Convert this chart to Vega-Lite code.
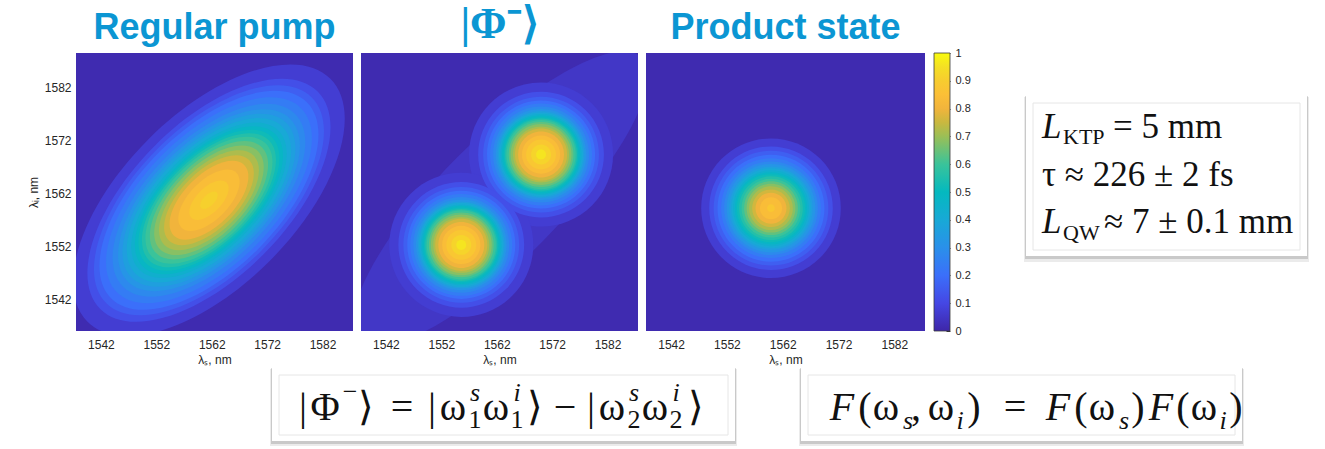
{
  "$schema": "https://vega.github.io/schema/vega-lite/v6.json",
  "padding": {"left": 27, "top": 3, "right": 0, "bottom": 0},
  "background": "white",
  "config": {
    "view": {"stroke": null},
    "font": "Liberation Sans",
    "axis": {"labelFont": "Liberation Sans", "titleFont": "Liberation Sans", "labelColor": "#262626", "titleColor": "#262626", "labelFontSize": 12, "titleFontSize": 12, "titleFontWeight": "normal", "grid": false, "domain": false, "ticks": false},
    "title": {"font": "Liberation Sans", "fontSize": 36, "fontWeight": "bold", "color": "#0b96d3", "offset": 6, "baseline": "alphabetic", "anchor": "middle"}
  },
  "datasets": {
    "blobs": [
      {"p":1,"x":1561.5,"y":1560.7,"v":0.07,"d":62,"s":"e"},
      {"p":1,"x":1561.5,"y":1560.7,"v":0.12,"d":55.5,"s":"e"},
      {"p":1,"x":1561.5,"y":1560.7,"v":0.16,"d":52.5,"s":"e"},
      {"p":1,"x":1561.5,"y":1560.7,"v":0.20,"d":50,"s":"e"},
      {"p":1,"x":1561.5,"y":1560.7,"v":0.24,"d":47,"s":"e"},
      {"p":1,"x":1561.5,"y":1560.7,"v":0.28,"d":44,"s":"e"},
      {"p":1,"x":1561.5,"y":1560.7,"v":0.32,"d":41.5,"s":"e"},
      {"p":1,"x":1561.5,"y":1560.7,"v":0.36,"d":39.5,"s":"e"},
      {"p":1,"x":1561.5,"y":1560.7,"v":0.40,"d":37.5,"s":"e"},
      {"p":1,"x":1561.5,"y":1560.7,"v":0.44,"d":35.5,"s":"e"},
      {"p":1,"x":1561.5,"y":1560.7,"v":0.48,"d":33.8,"s":"e"},
      {"p":1,"x":1561.5,"y":1560.7,"v":0.52,"d":32.2,"s":"e"},
      {"p":1,"x":1561.5,"y":1560.7,"v":0.56,"d":30.6,"s":"e"},
      {"p":1,"x":1561.5,"y":1560.7,"v":0.60,"d":29,"s":"e"},
      {"p":1,"x":1561.5,"y":1560.7,"v":0.64,"d":27,"s":"e"},
      {"p":1,"x":1561.5,"y":1560.7,"v":0.68,"d":25,"s":"e"},
      {"p":1,"x":1561.5,"y":1560.7,"v":0.72,"d":22.8,"s":"e"},
      {"p":1,"x":1561.5,"y":1560.7,"v":0.76,"d":20.5,"s":"e"},
      {"p":1,"x":1561.5,"y":1560.7,"v":0.80,"d":18,"s":"e"},
      {"p":1,"x":1561.5,"y":1560.7,"v":0.84,"d":14,"s":"e"},
      {"p":1,"x":1561.5,"y":1560.7,"v":0.88,"d":9,"s":"e"},
      {"p":1,"x":1561.5,"y":1560.7,"v":0.91,"d":4,"s":"e"},

      {"p":2,"x":1562.7,"y":1561.0,"v":0.05,"d":72,"s":"b"},
      {"p":2,"x":1570.0,"y":1569.3,"v":0.07,"d":26.0,"s":"c"},
      {"p":2,"x":1555.6,"y":1552.3,"v":0.07,"d":26.0,"s":"c"},
      {"p":2,"x":1570.0,"y":1569.3,"v":0.12,"d":22.7,"s":"c"},
      {"p":2,"x":1555.6,"y":1552.3,"v":0.12,"d":22.7,"s":"c"},
      {"p":2,"x":1570.0,"y":1569.3,"v":0.16,"d":20.9,"s":"c"},
      {"p":2,"x":1555.6,"y":1552.3,"v":0.16,"d":20.9,"s":"c"},
      {"p":2,"x":1570.0,"y":1569.3,"v":0.20,"d":19.5,"s":"c"},
      {"p":2,"x":1555.6,"y":1552.3,"v":0.20,"d":19.5,"s":"c"},
      {"p":2,"x":1570.0,"y":1569.3,"v":0.24,"d":18.4,"s":"c"},
      {"p":2,"x":1555.6,"y":1552.3,"v":0.24,"d":18.4,"s":"c"},
      {"p":2,"x":1570.0,"y":1569.3,"v":0.28,"d":17.3,"s":"c"},
      {"p":2,"x":1555.6,"y":1552.3,"v":0.28,"d":17.3,"s":"c"},
      {"p":2,"x":1570.0,"y":1569.3,"v":0.32,"d":16.4,"s":"c"},
      {"p":2,"x":1555.6,"y":1552.3,"v":0.32,"d":16.4,"s":"c"},
      {"p":2,"x":1570.0,"y":1569.3,"v":0.36,"d":15.7,"s":"c"},
      {"p":2,"x":1555.6,"y":1552.3,"v":0.36,"d":15.7,"s":"c"},
      {"p":2,"x":1570.0,"y":1569.3,"v":0.40,"d":15.2,"s":"c"},
      {"p":2,"x":1555.6,"y":1552.3,"v":0.40,"d":15.2,"s":"c"},
      {"p":2,"x":1570.0,"y":1569.3,"v":0.44,"d":14.6,"s":"c"},
      {"p":2,"x":1555.6,"y":1552.3,"v":0.44,"d":14.6,"s":"c"},
      {"p":2,"x":1570.0,"y":1569.3,"v":0.48,"d":14.1,"s":"c"},
      {"p":2,"x":1555.6,"y":1552.3,"v":0.48,"d":14.1,"s":"c"},
      {"p":2,"x":1570.0,"y":1569.3,"v":0.52,"d":13.5,"s":"c"},
      {"p":2,"x":1555.6,"y":1552.3,"v":0.52,"d":13.5,"s":"c"},
      {"p":2,"x":1570.0,"y":1569.3,"v":0.56,"d":13.0,"s":"c"},
      {"p":2,"x":1555.6,"y":1552.3,"v":0.56,"d":13.0,"s":"c"},
      {"p":2,"x":1570.0,"y":1569.3,"v":0.60,"d":12.5,"s":"c"},
      {"p":2,"x":1555.6,"y":1552.3,"v":0.60,"d":12.5,"s":"c"},
      {"p":2,"x":1570.0,"y":1569.3,"v":0.64,"d":11.7,"s":"c"},
      {"p":2,"x":1555.6,"y":1552.3,"v":0.64,"d":11.7,"s":"c"},
      {"p":2,"x":1570.0,"y":1569.3,"v":0.68,"d":11.0,"s":"c"},
      {"p":2,"x":1555.6,"y":1552.3,"v":0.68,"d":11.0,"s":"c"},
      {"p":2,"x":1570.0,"y":1569.3,"v":0.72,"d":10.1,"s":"c"},
      {"p":2,"x":1555.6,"y":1552.3,"v":0.72,"d":10.1,"s":"c"},
      {"p":2,"x":1570.0,"y":1569.3,"v":0.76,"d":9.4,"s":"c"},
      {"p":2,"x":1555.6,"y":1552.3,"v":0.76,"d":9.4,"s":"c"},
      {"p":2,"x":1570.0,"y":1569.3,"v":0.80,"d":8.3,"s":"c"},
      {"p":2,"x":1555.6,"y":1552.3,"v":0.80,"d":8.3,"s":"c"},
      {"p":2,"x":1570.0,"y":1569.3,"v":0.84,"d":6.9,"s":"c"},
      {"p":2,"x":1555.6,"y":1552.3,"v":0.84,"d":6.9,"s":"c"},
      {"p":2,"x":1570.0,"y":1569.3,"v":0.88,"d":5.4,"s":"c"},
      {"p":2,"x":1555.6,"y":1552.3,"v":0.88,"d":5.4,"s":"c"},
      {"p":2,"x":1570.0,"y":1569.3,"v":0.92,"d":3.6,"s":"c"},
      {"p":2,"x":1555.6,"y":1552.3,"v":0.92,"d":3.6,"s":"c"},
      {"p":2,"x":1570.0,"y":1569.3,"v":0.96,"d":1.8,"s":"c"},
      {"p":2,"x":1555.6,"y":1552.3,"v":0.96,"d":1.8,"s":"c"},

      {"p":3,"x":1559.9,"y":1559.2,"v":0.07,"d":25.2,"s":"c"},
      {"p":3,"x":1559.9,"y":1559.2,"v":0.12,"d":22.3,"s":"c"},
      {"p":3,"x":1559.9,"y":1559.2,"v":0.16,"d":20.7,"s":"c"},
      {"p":3,"x":1559.9,"y":1559.2,"v":0.20,"d":19.3,"s":"c"},
      {"p":3,"x":1559.9,"y":1559.2,"v":0.24,"d":18.0,"s":"c"},
      {"p":3,"x":1559.9,"y":1559.2,"v":0.28,"d":16.9,"s":"c"},
      {"p":3,"x":1559.9,"y":1559.2,"v":0.32,"d":16.0,"s":"c"},
      {"p":3,"x":1559.9,"y":1559.2,"v":0.36,"d":15.1,"s":"c"},
      {"p":3,"x":1559.9,"y":1559.2,"v":0.40,"d":14.4,"s":"c"},
      {"p":3,"x":1559.9,"y":1559.2,"v":0.44,"d":13.7,"s":"c"},
      {"p":3,"x":1559.9,"y":1559.2,"v":0.48,"d":13.0,"s":"c"},
      {"p":3,"x":1559.9,"y":1559.2,"v":0.52,"d":12.3,"s":"c"},
      {"p":3,"x":1559.9,"y":1559.2,"v":0.56,"d":11.5,"s":"c"},
      {"p":3,"x":1559.9,"y":1559.2,"v":0.60,"d":10.6,"s":"c"},
      {"p":3,"x":1559.9,"y":1559.2,"v":0.64,"d":9.7,"s":"c"},
      {"p":3,"x":1559.9,"y":1559.2,"v":0.68,"d":8.8,"s":"c"},
      {"p":3,"x":1559.9,"y":1559.2,"v":0.72,"d":7.9,"s":"c"},
      {"p":3,"x":1559.9,"y":1559.2,"v":0.76,"d":6.8,"s":"c"},
      {"p":3,"x":1559.9,"y":1559.2,"v":0.80,"d":5.6,"s":"c"},
      {"p":3,"x":1559.9,"y":1559.2,"v":0.84,"d":4.0,"s":"c"},
      {"p":3,"x":1559.9,"y":1559.2,"v":0.88,"d":1.4,"s":"c"}
    ],
    "cards": [
      {"g":"r","x":1026,"x2":1307,"y":95,"y2":255},
      {"g":"b","x":273,"x2":736,"y":370,"y2":443},
      {"g":"b","x":802,"x2":1243,"y":370,"y2":443}
    ],
    "notes": [
      {"g":"r","k":"it","t":"L","x":1042,"y":137},
      {"g":"r","k":"sub","t":"KTP","x":1063,"y":143},
      {"g":"r","k":"rm","t":"= 5 mm","x":1113,"y":137},
      {"g":"r","k":"rm","t":"τ ≈ 226 ± 2 fs","x":1042,"y":185},
      {"g":"r","k":"it","t":"L","x":1042,"y":232},
      {"g":"r","k":"sub","t":"QW","x":1063,"y":239},
      {"g":"r","k":"rm","t":"≈ 7 ± 0.1 mm","x":1104,"y":232},

      {"g":"b","k":"rm","t":"|","x":304,"y":422},
      {"g":"b","k":"rm","t":"Φ","x":326,"y":422},
      {"g":"b","k":"sup","t":"−","x":351,"y":402},
      {"g":"b","k":"rm","t":"⟩","x":367,"y":422},
      {"g":"b","k":"rm","t":"=","x":403,"y":422},
      {"g":"b","k":"rm","t":"|","x":433,"y":422},
      {"g":"b","k":"rm","t":"ω","x":454,"y":422},
      {"g":"b","k":"supit","t":"s","x":476,"y":403},
      {"g":"b","k":"sub","t":"1","x":476,"y":430},
      {"g":"b","k":"rm","t":"ω","x":497,"y":422},
      {"g":"b","k":"supit","t":"i","x":518,"y":403},
      {"g":"b","k":"sub","t":"1","x":518,"y":430},
      {"g":"b","k":"rm","t":"⟩","x":536,"y":422},
      {"g":"b","k":"rm","t":"−","x":566,"y":422},
      {"g":"b","k":"rm","t":"|","x":592,"y":422},
      {"g":"b","k":"rm","t":"ω","x":613,"y":422},
      {"g":"b","k":"supit","t":"s","x":635,"y":403},
      {"g":"b","k":"sub","t":"2","x":635,"y":430},
      {"g":"b","k":"rm","t":"ω","x":656,"y":422},
      {"g":"b","k":"supit","t":"i","x":677,"y":403},
      {"g":"b","k":"sub","t":"2","x":677,"y":430},
      {"g":"b","k":"rm","t":"⟩","x":697,"y":422},

      {"g":"b","k":"it","t":"F","x":843,"y":422},
      {"g":"b","k":"rm","t":"(","x":866,"y":422},
      {"g":"b","k":"rm","t":"ω","x":887,"y":422},
      {"g":"b","k":"subit","t":"s","x":909,"y":431},
      {"g":"b","k":"rm","t":",","x":917,"y":422},
      {"g":"b","k":"rm","t":"ω","x":942,"y":422},
      {"g":"b","k":"subit","t":"i","x":961,"y":431},
      {"g":"b","k":"rm","t":")","x":975,"y":422},
      {"g":"b","k":"rm","t":"=","x":1016,"y":422},
      {"g":"b","k":"it","t":"F","x":1059,"y":422},
      {"g":"b","k":"rm","t":"(","x":1082,"y":422},
      {"g":"b","k":"rm","t":"ω","x":1103,"y":422},
      {"g":"b","k":"subit","t":"s","x":1125,"y":431},
      {"g":"b","k":"rm","t":")","x":1139,"y":422},
      {"g":"b","k":"it","t":"F","x":1162,"y":422},
      {"g":"b","k":"rm","t":"(","x":1184,"y":422},
      {"g":"b","k":"rm","t":"ω","x":1205,"y":422},
      {"g":"b","k":"subit","t":"i","x":1224,"y":431},
      {"g":"b","k":"rm","t":")","x":1237,"y":422}
    ]
  },
  "resolve": {"scale": {"x": "independent", "y": "independent"}},
  "spacing": 0,
  "vconcat": [
    {
      "spacing": 8,
      "resolve": {"scale": {"x": "independent", "y": "independent", "color": "independent", "size": "independent", "shape": "independent"}},
      "hconcat": [
        {
          "width": 277, "height": 278,
          "title": {"text": "Regular pump"},
          "data": {"name": "blobs"},
          "transform": [{"filter": "datum.p == 1"}],
          "view": {"fill": "#3f2bb0", "stroke": null},
          "mark": {"type": "point", "filled": true, "opacity": 1, "strokeWidth": 0, "angle": 315, "clip": true},
          "encoding": {
            "x": {"field": "x", "type": "quantitative", "scale": {"domain": [1537.5, 1587.5], "nice": false, "zero": false}, "axis": {"values": [1542, 1552, 1562, 1572, 1582], "format": "d", "labelPadding": 8, "title": "λₛ, nm", "titlePadding": 4}},
            "y": {"field": "y", "type": "quantitative", "scale": {"domain": [1536.1, 1588.4], "nice": false, "zero": false}, "axis": {"values": [1542, 1552, 1562, 1572, 1582], "format": "d", "labelPadding": 5, "title": "λᵢ, nm", "titlePadding": 4}},
            "size": {"field": "d", "type": "quantitative", "scale": {"type": "pow", "exponent": 2, "domain": [0, 100], "range": [0, 306916]}, "legend": null},
            "shape": {"field": "s", "type": "nominal", "scale": {"domain": ["c", "e", "b"], "range": ["M-1,0A1,1,0,1,0,1,0A1,1,0,1,0,-1,0Z", "M-1,0A1,0.5,0,1,0,1,0A1,0.5,0,1,0,-1,0Z", "M-1,0A1,0.3,0,1,0,1,0A1,0.3,0,1,0,-1,0Z"]}, "legend": null},
            "color": {"field": "v", "type": "quantitative", "scale": {"type": "linear", "domain": [0, 0.1, 0.2, 0.3, 0.4, 0.5, 0.6, 0.7, 0.75, 0.8, 0.85, 0.9, 0.95, 1], "range": ["#3e26a8", "#4547e4", "#3b6ffa", "#2a90ea", "#18a9d6", "#04b9bf", "#3ac39a", "#9bbf56", "#c9b83f", "#f1b43c", "#fbbf37", "#f7cc2f", "#f4e024", "#f9fb0e"], "interpolate": "rgb"}, "legend": null},
            "order": {"field": "v", "type": "quantitative"}
          }
        },
        {
          "width": 277, "height": 278,
          "title": {"text": "|Φ⁻⟩", "font": "Liberation Serif", "fontSize": 44},
          "data": {"name": "blobs"},
          "transform": [{"filter": "datum.p == 2"}],
          "view": {"fill": "#3f2bb0", "stroke": null},
          "mark": {"type": "point", "filled": true, "opacity": 1, "strokeWidth": 0, "angle": 315, "clip": true},
          "encoding": {
            "x": {"field": "x", "type": "quantitative", "scale": {"domain": [1537.5, 1587.5], "nice": false, "zero": false}, "axis": {"values": [1542, 1552, 1562, 1572, 1582], "format": "d", "labelPadding": 8, "title": "λₛ, nm", "titlePadding": 4}},
            "y": {"field": "y", "type": "quantitative", "scale": {"domain": [1536.1, 1588.4], "nice": false, "zero": false}, "axis": null},
            "size": {"field": "d", "type": "quantitative", "scale": {"type": "pow", "exponent": 2, "domain": [0, 100], "range": [0, 306916]}, "legend": null},
            "shape": {"field": "s", "type": "nominal", "scale": {"domain": ["c", "e", "b"], "range": ["M-1,0A1,1,0,1,0,1,0A1,1,0,1,0,-1,0Z", "M-1,0A1,0.5,0,1,0,1,0A1,0.5,0,1,0,-1,0Z", "M-1,0A1,0.3,0,1,0,1,0A1,0.3,0,1,0,-1,0Z"]}, "legend": null},
            "color": {"field": "v", "type": "quantitative", "scale": {"type": "linear", "domain": [0, 0.1, 0.2, 0.3, 0.4, 0.5, 0.6, 0.7, 0.75, 0.8, 0.85, 0.9, 0.95, 1], "range": ["#3e26a8", "#4547e4", "#3b6ffa", "#2a90ea", "#18a9d6", "#04b9bf", "#3ac39a", "#9bbf56", "#c9b83f", "#f1b43c", "#fbbf37", "#f7cc2f", "#f4e024", "#f9fb0e"], "interpolate": "rgb"}, "legend": null},
            "order": {"field": "v", "type": "quantitative"}
          }
        },
        {
          "width": 279, "height": 278,
          "title": {"text": "Product state"},
          "data": {"name": "blobs"},
          "transform": [{"filter": "datum.p == 3"}],
          "view": {"fill": "#3f2bb0", "stroke": null},
          "mark": {"type": "point", "filled": true, "opacity": 1, "strokeWidth": 0, "angle": 315, "clip": true},
          "encoding": {
            "x": {"field": "x", "type": "quantitative", "scale": {"domain": [1537.5, 1587.5], "nice": false, "zero": false}, "axis": {"values": [1542, 1552, 1562, 1572, 1582], "format": "d", "labelPadding": 8, "title": "λₛ, nm", "titlePadding": 4}},
            "y": {"field": "y", "type": "quantitative", "scale": {"domain": [1536.1, 1588.4], "nice": false, "zero": false}, "axis": null},
            "size": {"field": "d", "type": "quantitative", "scale": {"type": "pow", "exponent": 2, "domain": [0, 100], "range": [0, 306916]}, "legend": null},
            "shape": {"field": "s", "type": "nominal", "scale": {"domain": ["c", "e", "b"], "range": ["M-1,0A1,1,0,1,0,1,0A1,1,0,1,0,-1,0Z", "M-1,0A1,0.5,0,1,0,1,0A1,0.5,0,1,0,-1,0Z", "M-1,0A1,0.3,0,1,0,1,0A1,0.3,0,1,0,-1,0Z"]}, "legend": null},
            "color": {"field": "v", "type": "quantitative", "scale": {"type": "linear", "domain": [0, 0.1, 0.2, 0.3, 0.4, 0.5, 0.6, 0.7, 0.75, 0.8, 0.85, 0.9, 0.95, 1], "range": ["#3e26a8", "#4547e4", "#3b6ffa", "#2a90ea", "#18a9d6", "#04b9bf", "#3ac39a", "#9bbf56", "#c9b83f", "#f1b43c", "#fbbf37", "#f7cc2f", "#f4e024", "#f9fb0e"], "interpolate": "rgb"}, "legend": null},
            "order": {"field": "v", "type": "quantitative"}
          }
        },
        {
          "width": 16, "height": 278,
          "data": {"values": [{"lo": 0, "hi": 1}]},
          "mark": {"type": "rect", "stroke": "#3a3a3a", "strokeWidth": 0.8, "fill": {"gradient": "linear", "x1": 0, "y1": 1, "x2": 0, "y2": 0, "stops": [{"offset": 0, "color": "#3e26a8"}, {"offset": 0.1, "color": "#4547e4"}, {"offset": 0.2, "color": "#3b6ffa"}, {"offset": 0.3, "color": "#2a90ea"}, {"offset": 0.4, "color": "#18a9d6"}, {"offset": 0.5, "color": "#04b9bf"}, {"offset": 0.6, "color": "#3ac39a"}, {"offset": 0.7, "color": "#9bbf56"}, {"offset": 0.75, "color": "#c9b83f"}, {"offset": 0.8, "color": "#f1b43c"}, {"offset": 0.85, "color": "#fbbf37"}, {"offset": 0.9, "color": "#f7cc2f"}, {"offset": 0.95, "color": "#f4e024"}, {"offset": 1, "color": "#f9fb0e"}]}},
          "encoding": {
            "y": {"field": "lo", "type": "quantitative", "scale": {"domain": [0, 1], "nice": false}, "axis": {"orient": "right", "values": [0, 0.1, 0.2, 0.3, 0.4, 0.5, 0.6, 0.7, 0.8, 0.9, 1], "format": "~g", "title": null, "ticks": true, "tickSize": -4, "tickColor": "#333333", "labelPadding": 9, "labelFontSize": 11}},
            "y2": {"field": "hi"}
          }
        },
        {
          "width": 340, "height": 278,
          "encoding": {
            "x": {"field": "x", "type": "quantitative", "scale": {"domain": [979, 1319], "nice": false, "zero": false}, "axis": null},
            "y": {"field": "y", "type": "quantitative", "scale": {"domain": [52, 330], "reverse": true, "nice": false, "zero": false}, "axis": null}
          },
          "layer": [
            {"data": {"name": "cards"}, "transform": [{"filter": "datum.g == 'r'"}], "mark": {"type": "rect", "fill": "#000000", "opacity": 0.08, "xOffset": -2, "x2Offset": 2, "yOffset": 1, "y2Offset": 6}, "encoding": {"x2": {"field": "x2"}, "y2": {"field": "y2"}}},
            {"data": {"name": "cards"}, "transform": [{"filter": "datum.g == 'r'"}], "mark": {"type": "rect", "fill": "#000000", "opacity": 0.14, "xOffset": -1, "x2Offset": 1, "yOffset": 0, "y2Offset": 3}, "encoding": {"x2": {"field": "x2"}, "y2": {"field": "y2"}}},
            {"data": {"name": "cards"}, "transform": [{"filter": "datum.g == 'r'"}], "mark": {"type": "rect", "fill": "#ffffff"}, "encoding": {"x2": {"field": "x2"}, "y2": {"field": "y2"}}},
            {"data": {"name": "cards"}, "transform": [{"filter": "datum.g == 'r'"}], "mark": {"type": "rect", "fill": null, "stroke": "#e6e6e6", "strokeWidth": 1, "xOffset": 7, "x2Offset": -7, "yOffset": 7, "y2Offset": -6}, "encoding": {"x2": {"field": "x2"}, "y2": {"field": "y2"}}},
            {"data": {"name": "notes"}, "transform": [{"filter": "datum.g == 'r' && datum.k == 'rm'"}], "mark": {"type": "text", "align": "left", "baseline": "alphabetic", "font": "Liberation Serif", "fontSize": 35, "color": "#111111"}, "encoding": {"text": {"field": "t"}}},
            {"data": {"name": "notes"}, "transform": [{"filter": "datum.g == 'r' && datum.k == 'it'"}], "mark": {"type": "text", "align": "left", "baseline": "alphabetic", "font": "Liberation Serif", "fontStyle": "italic", "fontSize": 35, "color": "#111111"}, "encoding": {"text": {"field": "t"}}},
            {"data": {"name": "notes"}, "transform": [{"filter": "datum.g == 'r' && datum.k == 'sub'"}], "mark": {"type": "text", "align": "left", "baseline": "alphabetic", "font": "Liberation Serif", "fontSize": 22, "color": "#111111"}, "encoding": {"text": {"field": "t"}}}
          ]
        }
      ]
    },
    {
      "width": 1248, "height": 82,
      "encoding": {
        "x": {"field": "x", "type": "quantitative", "scale": {"domain": [77, 1325], "nice": false, "zero": false}, "axis": null},
        "y": {"field": "y", "type": "quantitative", "scale": {"domain": [367, 449], "reverse": true, "nice": false, "zero": false}, "axis": null}
      },
      "layer": [
        {"data": {"name": "cards"}, "transform": [{"filter": "datum.g == 'b'"}], "mark": {"type": "rect", "fill": "#000000", "opacity": 0.08, "xOffset": -2, "x2Offset": 2, "yOffset": 1, "y2Offset": 5}, "encoding": {"x2": {"field": "x2"}, "y2": {"field": "y2"}}},
        {"data": {"name": "cards"}, "transform": [{"filter": "datum.g == 'b'"}], "mark": {"type": "rect", "fill": "#000000", "opacity": 0.14, "xOffset": -1, "x2Offset": 1, "yOffset": 0, "y2Offset": 3}, "encoding": {"x2": {"field": "x2"}, "y2": {"field": "y2"}}},
        {"data": {"name": "cards"}, "transform": [{"filter": "datum.g == 'b'"}], "mark": {"type": "rect", "fill": "#ffffff"}, "encoding": {"x2": {"field": "x2"}, "y2": {"field": "y2"}}},
        {"data": {"name": "cards"}, "transform": [{"filter": "datum.g == 'b'"}], "mark": {"type": "rect", "fill": null, "stroke": "#e6e6e6", "strokeWidth": 1, "xOffset": 7, "x2Offset": -7, "yOffset": 7, "y2Offset": -6}, "encoding": {"x2": {"field": "x2"}, "y2": {"field": "y2"}}},
        {"data": {"name": "notes"}, "transform": [{"filter": "datum.g == 'b' && datum.k == 'rm'"}], "mark": {"type": "text", "align": "center", "baseline": "alphabetic", "font": "Liberation Serif", "fontSize": 40, "color": "#111111"}, "encoding": {"text": {"field": "t"}}},
        {"data": {"name": "notes"}, "transform": [{"filter": "datum.g == 'b' && datum.k == 'it'"}], "mark": {"type": "text", "align": "center", "baseline": "alphabetic", "font": "Liberation Serif", "fontStyle": "italic", "fontSize": 40, "color": "#111111"}, "encoding": {"text": {"field": "t"}}},
        {"data": {"name": "notes"}, "transform": [{"filter": "datum.g == 'b' && (datum.k == 'sup' || datum.k == 'sub')"}], "mark": {"type": "text", "align": "center", "baseline": "alphabetic", "font": "Liberation Serif", "fontSize": 26, "color": "#111111"}, "encoding": {"text": {"field": "t"}}},
        {"data": {"name": "notes"}, "transform": [{"filter": "datum.g == 'b' && (datum.k == 'supit' || datum.k == 'subit')"}], "mark": {"type": "text", "align": "center", "baseline": "alphabetic", "font": "Liberation Serif", "fontStyle": "italic", "fontSize": 26, "color": "#111111"}, "encoding": {"text": {"field": "t"}}}
      ]
    }
  ]
}
